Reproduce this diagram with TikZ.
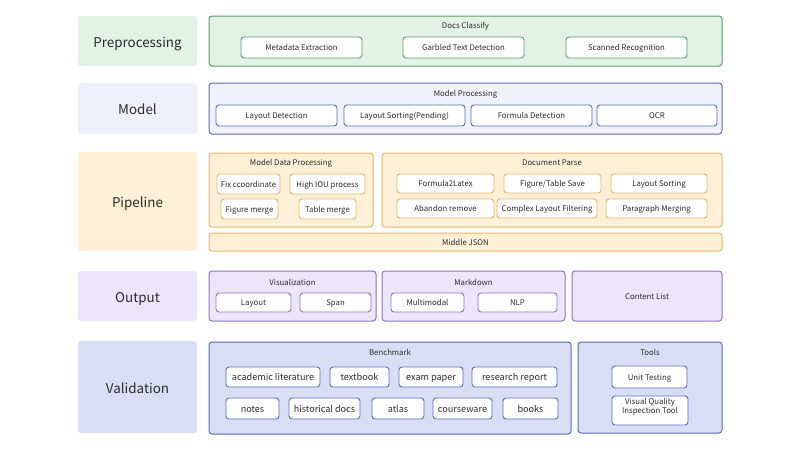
\documentclass[tikz,border=0pt]{standalone}
\usepackage{fontspec}
\setmainfont{Noto Sans CJK SC}
\definecolor{gfill}{HTML}{E2F2E7}
\definecolor{gline}{HTML}{5E9A6E}
\definecolor{mfill}{HTML}{F0F2FC}
\definecolor{mlfill}{HTML}{EEF0FB}
\definecolor{mline}{HTML}{5A6FB0}
\definecolor{pfill}{HTML}{FDF0D6}
\definecolor{pline}{HTML}{E2B96B}
\definecolor{ofill}{HTML}{ECE6FB}
\definecolor{oline}{HTML}{8D72C9}
\definecolor{vfill}{HTML}{DADEF5}
\definecolor{vline}{HTML}{5B6BBE}
\definecolor{txt}{HTML}{2B2B2B}
\tikzset{
  base/.style={rectangle, rounded corners=3pt, inner sep=0pt, outer sep=0pt, text=txt, align=center},
  lab/.style={base, font=\fontsize{13.4}{16}\selectfont, text height=12pt, text depth=0pt},
  grp/.style={base, line width=1pt},
  item/.style={base, fill=white, line width=0.9pt, font=\fontsize{7.8}{9.5}\selectfont, text height=6.2pt, text depth=0pt},
  bitem/.style={item, font=\fontsize{9.1}{11}\selectfont, text height=7.2pt, text depth=0pt},
  ttl/.style={inner sep=0pt, text=txt, font=\fontsize{7.8}{9}\selectfont},
}
\newcommand\rbx[7]{\node[#2, minimum width={(#5)-(#3)}, minimum height={(#6)-(#4)}] (#1) at ({((#3)+(#5))/2},{((#4)+(#6))/2}) {#7};}
\begin{document}
\begin{tikzpicture}[x=1pt,y=-1pt]
\useasboundingbox[fill=white] (0,0) rectangle (800,450);
% ---------- Preprocessing
\rbx{lpre}{lab, fill=gfill}{78}{16}{197}{66}{Preprocessing}
\rbx{gpre}{grp, fill=gfill, draw=gline}{209}{16}{722}{66}{}
\node[ttl] (tpre) at (465.5,26) {Docs Classify};
\rbx{p1}{item, draw=gline}{241}{37}{362}{58}{Metadata Extraction}
\rbx{p2}{item, draw=gline}{403}{37}{524}{58}{Garbled Text Detection}
\rbx{p3}{item, draw=gline}{566}{37}{687}{58}{Scanned Recognition}
% ---------- Model
\rbx{lmod}{lab, fill=mlfill}{78}{83}{197}{134}{Model}
\rbx{gmod}{grp, fill=mfill, draw=mline}{209}{83}{722}{134}{}
\node[ttl] (tmod) at (465.5,94) {Model Processing};
\rbx{m1}{item, draw=mline}{216}{105}{337}{126}{Layout Detection}
\rbx{m2}{item, draw=mline}{344}{105}{465}{126}{Layout Sorting(Pending)}
\rbx{m3}{item, draw=mline}{471}{105}{592}{126}{Formula Detection}
\rbx{m4}{item, draw=mline}{597}{105}{717}{126}{OCR}
% ---------- Pipeline
\rbx{lpip}{lab, fill=pfill}{78}{152}{197}{251}{Pipeline}
\rbx{gmdp}{grp, fill=pfill, draw=pline}{209}{153}{373}{227}{}
\node[ttl] (tmdp) at (291,163) {Model Data Processing};
\rbx{a1}{item, draw=pline}{217}{174}{280}{194}{Fix ccoordinate}
\rbx{a2}{item, draw=pline}{290}{174}{365}{194}{High IOU process}
\rbx{a3}{item, draw=pline}{221}{199}{278}{219}{Figure merge}
\rbx{a4}{item, draw=pline}{299}{199}{356}{219}{Table merge}
\rbx{gdp}{grp, fill=pfill, draw=pline}{382}{153}{722}{227}{}
\node[ttl] (tdp) at (552,163) {Document Parse};
\rbx{b1}{item, draw=pline}{397}{174}{494}{193}{Formula2Latex}
\rbx{b2}{item, draw=pline}{504}{174}{601}{193}{Figure/Table Save}
\rbx{b3}{item, draw=pline}{611}{174}{707}{193}{Layout Sorting}
\rbx{b4}{item, draw=pline}{397}{199}{494}{218}{Abandon remove}
\rbx{b5}{item, draw=pline}{497}{199}{597}{218}{Complex Layout Filtering}
\rbx{b6}{item, draw=pline}{606}{199}{707}{218}{Paragraph Merging}
\rbx{json}{grp, fill=pfill, draw=pline, font=\fontsize{7.8}{9}\selectfont, text height=6.2pt, text depth=0pt}{209}{233}{722}{251}{Middle JSON}
% ---------- Output
\rbx{lout}{lab, fill=ofill}{78}{271}{197}{321}{Output}
\rbx{gvis}{grp, fill=ofill, draw=oline}{209}{271}{376}{321}{}
\node[ttl] (tvis) at (292.5,282) {Visualization};
\rbx{o1}{item, draw=oline}{216}{293}{291}{312}{Layout}
\rbx{o2}{item, draw=oline}{300}{293}{371}{312}{Span}
\rbx{gmd}{grp, fill=ofill, draw=oline}{382}{271}{565}{321}{}
\node[ttl] (tmd) at (473.5,282) {Markdown};
\rbx{o3}{item, draw=oline}{391}{293}{464}{312}{Multimodal}
\rbx{o4}{item, draw=oline}{478}{293}{557}{312}{NLP}
\rbx{gcl}{grp, fill=ofill, draw=oline, font=\fontsize{7.8}{9}\selectfont, text height=6.2pt, text depth=0pt}{572}{271}{722}{321}{Content List}
% ---------- Validation
\rbx{lval}{lab, fill=vfill}{78}{341}{197}{433}{Validation}
\rbx{gbm}{grp, fill=vfill, draw=vline}{209}{342}{571}{434}{}
\node[ttl] (tbm) at (390,352) {Benchmark};
\rbx{v1}{bitem, draw=vline}{226}{367}{320}{387}{academic literature}
\rbx{v2}{bitem, draw=vline}{330}{367}{389}{387}{textbook}
\rbx{v3}{bitem, draw=vline}{399}{367}{463}{387}{exam paper}
\rbx{v4}{bitem, draw=vline}{472}{367}{557}{387}{research report}
\rbx{v5}{bitem, draw=vline}{226}{398}{279}{419}{notes}
\rbx{v6}{bitem, draw=vline}{289}{398}{360}{419}{historical docs}
\rbx{v7}{bitem, draw=vline}{372}{398}{424}{419}{atlas}
\rbx{v8}{bitem, draw=vline}{433}{398}{492}{419}{courseware}
\rbx{v9}{bitem, draw=vline}{503}{398}{558}{419}{books}
\rbx{gtl}{grp, fill=vfill, draw=vline}{578}{342}{722}{433}{}
\node[ttl] (ttl) at (650,352) {Tools};
\rbx{t1}{item, draw=vline}{612}{366}{687}{388}{Unit Testing}
\rbx{t2}{item, draw=vline}{612}{396}{688}{425}{Visual Quality\\Inspection Tool}
\end{tikzpicture}
\end{document}
